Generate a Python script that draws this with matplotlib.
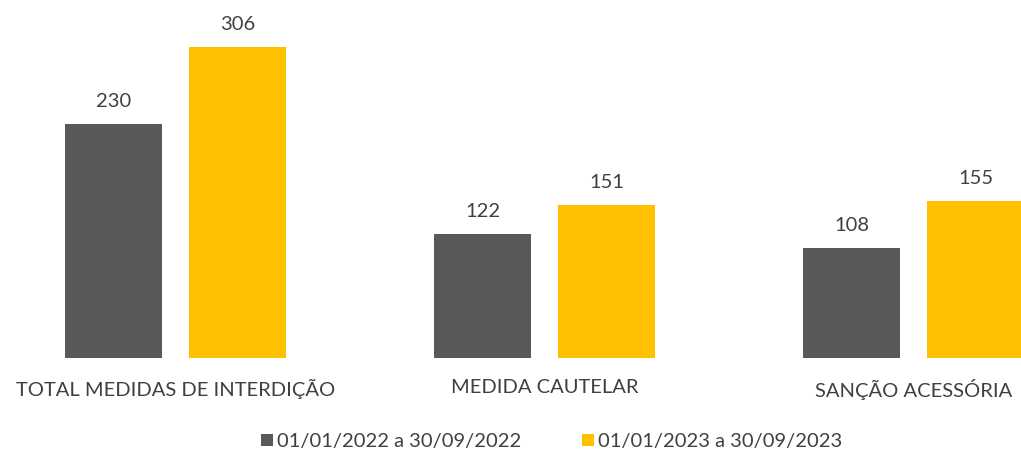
import numpy as np
import matplotlib
matplotlib.use('Agg')
import matplotlib.pyplot as plt

# Data
categories = ['TOTAL MEDIDAS DE INTERDIÇÃO', 'MEDIDA CAUTELAR', 'SANÇÃO ACESSÓRIA']
series_names = ['01/01/2022 a 30/09/2022', '01/01/2023 a 30/09/2023']
values_2022 = [230, 122, 108]
values_2023 = [306, 151, 155]

DARK = '#595959'
YELLOW = '#FFC000'
TEXT = '#404040'
FS = 14.5

plt.rcParams['font.family'] = ['Lato', 'DejaVu Sans']

fig = plt.figure(figsize=(10.21, 4.53), dpi=100)
ax = fig.add_axes([0, 0.2097, 1, 0.7903])

x = np.arange(len(categories))
width = 0.263
offset = 0.168

b1 = ax.bar(x - offset, values_2022, width, color=DARK, label=series_names[0])
b2 = ax.bar(x + offset, values_2023, width, color=YELLOW, label=series_names[1])

for bars in (b1, b2):
    for rect in bars:
        h = rect.get_height()
        ax.annotate(f'{h:.0f}', (rect.get_x() + rect.get_width() / 2, h),
                    xytext=(0, 10), textcoords='offset points',
                    ha='center', va='bottom', fontsize=FS, color=TEXT)

ax.set_xlim(-0.476, 2.291)
ax.set_ylim(0, 352.4)
ax.set_xticks(x)
ax.set_xticklabels(categories, fontsize=FS, color=TEXT)
ax.tick_params(axis='x', length=0, pad=15)
ax.set_yticks([])
for s in ax.spines.values():
    s.set_visible(False)

fig.legend(handles=[b1, b2], loc='center', bbox_to_anchor=(0.54, 0.025),
           ncol=2, frameon=False, fontsize=FS, handlelength=0.6, handleheight=0.6,
           handletextpad=0.2, columnspacing=3.0, labelcolor=TEXT)

fig.savefig('out.png', dpi=100)
